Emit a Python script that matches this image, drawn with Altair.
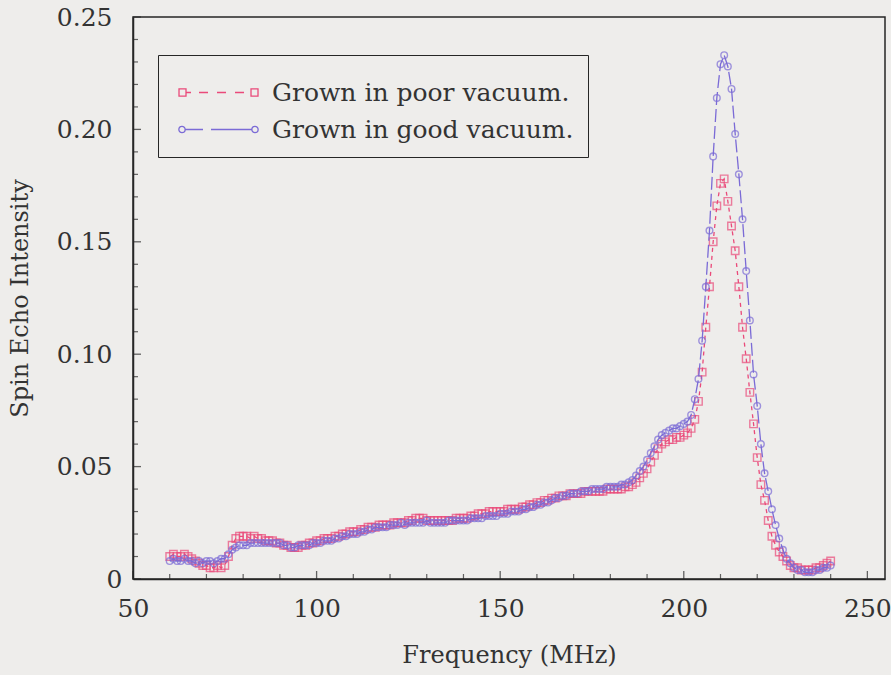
import altair as alt
import pandas as pd

# ---------------- data ----------------
freq_mhz = list(range(60, 241))  # 1 MHz sampling grid, 60..240 MHz

poor_vacuum = [
    0.010, 0.011, 0.010, 0.010, 0.011, 0.010, 0.009, 0.008, 0.007, 0.006,
    0.006, 0.005, 0.005, 0.006, 0.005, 0.006, 0.010, 0.015, 0.018, 0.019,
    0.019, 0.019, 0.018, 0.019, 0.018, 0.018, 0.017, 0.017, 0.017, 0.016,
    0.016, 0.015, 0.015, 0.014, 0.014, 0.014, 0.015, 0.015, 0.016, 0.016,
    0.017, 0.017, 0.018, 0.018, 0.018, 0.019, 0.019, 0.020, 0.020, 0.021,
    0.021, 0.021, 0.022, 0.022, 0.023, 0.023, 0.023, 0.024, 0.024, 0.024,
    0.024, 0.025, 0.025, 0.025, 0.025, 0.026, 0.026, 0.027, 0.027, 0.027,
    0.026, 0.026, 0.026, 0.026, 0.026, 0.026, 0.026, 0.026, 0.027, 0.027,
    0.027, 0.027, 0.028, 0.028, 0.029, 0.029, 0.029, 0.030, 0.030, 0.030,
    0.030, 0.030, 0.031, 0.031, 0.031, 0.031, 0.032, 0.032, 0.033, 0.033,
    0.034, 0.034, 0.035, 0.035, 0.036, 0.036, 0.037, 0.037, 0.037, 0.038,
    0.038, 0.038, 0.038, 0.039, 0.039, 0.039, 0.039, 0.039, 0.039, 0.040,
    0.040, 0.040, 0.040, 0.040, 0.041, 0.041, 0.042, 0.043, 0.045, 0.047,
    0.049, 0.052, 0.055, 0.058, 0.060, 0.061, 0.062, 0.062, 0.063, 0.063,
    0.064, 0.065, 0.067, 0.071, 0.079, 0.092, 0.112, 0.130, 0.150, 0.166,
    0.176, 0.178, 0.168, 0.157, 0.146, 0.130, 0.112, 0.098, 0.083, 0.069,
    0.054, 0.042, 0.035, 0.026, 0.019, 0.015, 0.012, 0.010, 0.008, 0.006,
    0.005, 0.005, 0.004, 0.004, 0.004, 0.004, 0.005, 0.005, 0.006, 0.007, 0.008,
]

good_vacuum = [
    0.008, 0.009, 0.008, 0.008, 0.009, 0.008, 0.008, 0.007, 0.008, 0.007,
    0.008, 0.008, 0.007, 0.008, 0.009, 0.009, 0.011, 0.013, 0.014, 0.015,
    0.015, 0.015, 0.016, 0.016, 0.016, 0.016, 0.016, 0.016, 0.016, 0.016,
    0.016, 0.015, 0.015, 0.014, 0.014, 0.015, 0.015, 0.015, 0.015, 0.016,
    0.016, 0.016, 0.017, 0.017, 0.017, 0.018, 0.018, 0.019, 0.019, 0.020,
    0.020, 0.020, 0.021, 0.021, 0.022, 0.022, 0.023, 0.023, 0.023, 0.023,
    0.024, 0.024, 0.024, 0.025, 0.024, 0.025, 0.025, 0.025, 0.025, 0.025,
    0.026, 0.025, 0.025, 0.025, 0.025, 0.025, 0.026, 0.026, 0.026, 0.026,
    0.026, 0.026, 0.027, 0.027, 0.027, 0.027, 0.028, 0.028, 0.028, 0.028,
    0.029, 0.029, 0.029, 0.030, 0.030, 0.030, 0.031, 0.031, 0.032, 0.032,
    0.033, 0.033, 0.034, 0.034, 0.035, 0.036, 0.036, 0.037, 0.037, 0.038,
    0.038, 0.038, 0.039, 0.039, 0.039, 0.040, 0.040, 0.040, 0.040, 0.041,
    0.041, 0.041, 0.041, 0.042, 0.042, 0.043, 0.044, 0.046, 0.048, 0.050,
    0.053, 0.056, 0.059, 0.062, 0.064, 0.065, 0.066, 0.067, 0.067, 0.068,
    0.069, 0.070, 0.073, 0.080, 0.089, 0.106, 0.130, 0.155, 0.188, 0.214,
    0.229, 0.233, 0.228, 0.218, 0.198, 0.180, 0.160, 0.137, 0.115, 0.091,
    0.077, 0.060, 0.047, 0.039, 0.031, 0.024, 0.018, 0.013, 0.009, 0.007,
    0.005, 0.004, 0.004, 0.003, 0.003, 0.003, 0.004, 0.004, 0.005, 0.005, 0.006,
]

series_names = ["Grown in poor vacuum.", "Grown in good vacuum."]

x_major_ticks = [50, 100, 150, 200, 250]
x_minor_ticks = [60, 70, 80, 90, 110, 120, 130, 140, 160, 170, 180, 190,
                 210, 220, 230, 240]
y_major_ticks = [0, 0.05, 0.10, 0.15, 0.20, 0.25]
y_minor_ticks = [0.01, 0.02, 0.03, 0.04, 0.06, 0.07, 0.08, 0.09,
                 0.11, 0.12, 0.13, 0.14, 0.16, 0.17, 0.18, 0.19,
                 0.21, 0.22, 0.23, 0.24]
x_axis_start = 50
y_axis_start = 0

# ---------------- style ----------------
PINK = "#ea4a7a"
PURPLE = "#7b6bd6"
BG = "#eeedeb"
INK = "#333333"
FRAME = "#262626"
FONT = "DejaVu Serif"

df = pd.DataFrame({
    "freq": freq_mhz + freq_mhz,
    "value": poor_vacuum + good_vacuum,
    "series": [series_names[0]] * len(freq_mhz) + [series_names[1]] * len(freq_mhz),
})

xs = alt.Scale(domain=[50, 254.8], nice=False, zero=False)
ys = alt.Scale(domain=[0, 0.25], nice=False, zero=False)
cs = alt.Scale(domain=series_names, range=[PINK, PURPLE])

x_axis = alt.Axis(values=x_major_ticks, ticks=False, grid=False, labelFlush=False,
                  labelPadding=17, titlePadding=22, labelFont=FONT, labelFontSize=25,
                  titleFont=FONT, titleFontSize=24, titleFontWeight="normal",
                  labelColor=INK, titleColor=INK, domainColor=FRAME, domainWidth=1.5)
y_axis = alt.Axis(values=y_major_ticks, ticks=False, grid=False, labelFlush=False,
                  labelPadding={"condition": {"test": "datum.value === 0", "value": 11},
                                "value": 21},
                  titlePadding=24, labelFont=FONT, labelFontSize=25,
                  titleFont=FONT, titleFontSize=24, titleFontWeight="normal",
                  labelColor=INK, titleColor=INK, domainColor=FRAME, domainWidth=1.5,
                  labelExpr="datum.value == 0 ? '0' : format(datum.value, '.2f')")
X_TITLE = "Frequency (MHz)"
Y_TITLE = "Spin Echo Intensity"

def xenc(field):
    return alt.X(field, scale=xs, axis=x_axis, title=X_TITLE)

def yenc(field):
    return alt.Y(field, scale=ys, axis=y_axis, title=Y_TITLE)

base = alt.Chart(df)
poor = base.transform_filter(alt.datum.series == series_names[0])
good = base.transform_filter(alt.datum.series == series_names[1])

line_poor = poor.mark_line(color=PINK, strokeDash=[4, 4], strokeWidth=1.3).encode(
    x=xenc("freq:Q"), y=yenc("value:Q"))
pts_poor = poor.mark_point(color=PINK, shape="square", filled=False, size=56,
                           strokeWidth=1.4).encode(x=xenc("freq:Q"), y=yenc("value:Q"))
line_good = good.mark_line(color=PURPLE, strokeDash=[13, 4], strokeWidth=1.3).encode(
    x=xenc("freq:Q"), y=yenc("value:Q"))
pts_good = good.mark_point(color=PURPLE, shape="circle", filled=False, size=44,
                           strokeWidth=1.4).encode(x=xenc("freq:Q"), y=yenc("value:Q"))

# ---- legend symbols: marker + dashed line + marker drawn as custom paths ----
S = 45.0            # legend symbol box (sqrt of symbol size) in px
LEFT = S / 2 - 6    # px from symbol column centre back to where the drawing starts
def u(o):
    return (o - LEFT) / (S / 2.0)

def seg(a, b):
    return f"M{u(a):.3f},0L{u(b):.3f},0"

def square(a, b, h=0.16):
    return f"M{u(a):.3f},{-h}L{u(b):.3f},{-h}L{u(b):.3f},{h}L{u(a):.3f},{h}Z"

def circle(c, r=0.14):
    cx = u(c)
    return f"M{cx - r:.3f},0A{r},{r} 0 1,0 {cx + r:.3f},0A{r},{r} 0 1,0 {cx - r:.3f},0"

path_poor = (square(0, 7) + seg(7, 12) + seg(20, 29) + seg(38, 47) + seg(56, 65)
             + square(72, 79))
path_good = circle(3) + seg(6, 24) + seg(32, 73) + circle(76)

leg = alt.Legend(title=None, orient="none", legendX=25, legendY=38, direction="vertical",
                 labelFont=FONT, labelFontSize=25, labelColor=INK, labelLimit=0,
                 symbolSize=S * S, symbolStrokeWidth=1.3, symbolOpacity=1,
                 labelOffset=53, padding=14, rowPadding=-13,
                 strokeColor=FRAME, fillColor=BG)

legend_layer = base.mark_point(opacity=0, filled=False).encode(
    x=xenc("freq:Q"), y=yenc("value:Q"),
    color=alt.Color("series:N", scale=cs, legend=leg),
    shape=alt.Shape("series:N", scale=alt.Scale(domain=series_names,
                                                range=[path_poor, path_good]), legend=leg),
)

# ---- inward-pointing axis ticks ----
xt_df_major = pd.DataFrame({"t": x_major_ticks, "z": [y_axis_start] * len(x_major_ticks)})
xt_df_minor = pd.DataFrame({"t": x_minor_ticks, "z": [y_axis_start] * len(x_minor_ticks)})
yt_df_major = pd.DataFrame({"t": y_major_ticks, "z": [x_axis_start] * len(y_major_ticks)})
yt_df_minor = pd.DataFrame({"t": y_minor_ticks, "z": [x_axis_start] * len(y_minor_ticks)})

xt_major = alt.Chart(xt_df_major).mark_tick(
    orient="vertical", size=8, thickness=1.3, yOffset=-4, color=FRAME).encode(
    x=xenc("t:Q"), y=yenc("z:Q"))
xt_minor = alt.Chart(xt_df_minor).mark_tick(
    orient="vertical", size=5, thickness=1.2, yOffset=-2.5, color=FRAME).encode(
    x=xenc("t:Q"), y=yenc("z:Q"))
yt_major = alt.Chart(yt_df_major).mark_tick(
    orient="horizontal", size=8, thickness=1.3, xOffset=4, color=FRAME).encode(
    y=yenc("t:Q"), x=xenc("z:Q"))
yt_minor = alt.Chart(yt_df_minor).mark_tick(
    orient="horizontal", size=5, thickness=1.2, xOffset=2.5, color=FRAME).encode(
    y=yenc("t:Q"), x=xenc("z:Q"))

chart = alt.layer(
    line_poor, pts_poor, line_good, pts_good, legend_layer,
    xt_major, xt_minor, yt_major, yt_minor,
).properties(
    width=752, height=562,
    autosize=alt.AutoSizeParams(type="none"),
    padding={"left": 133, "top": 17, "right": 6, "bottom": 96},
    background=BG,
).configure_view(
    stroke=FRAME, strokeWidth=1.5,
)

chart.save("out.html", embed_options={"renderer": "svg", "actions": False})
